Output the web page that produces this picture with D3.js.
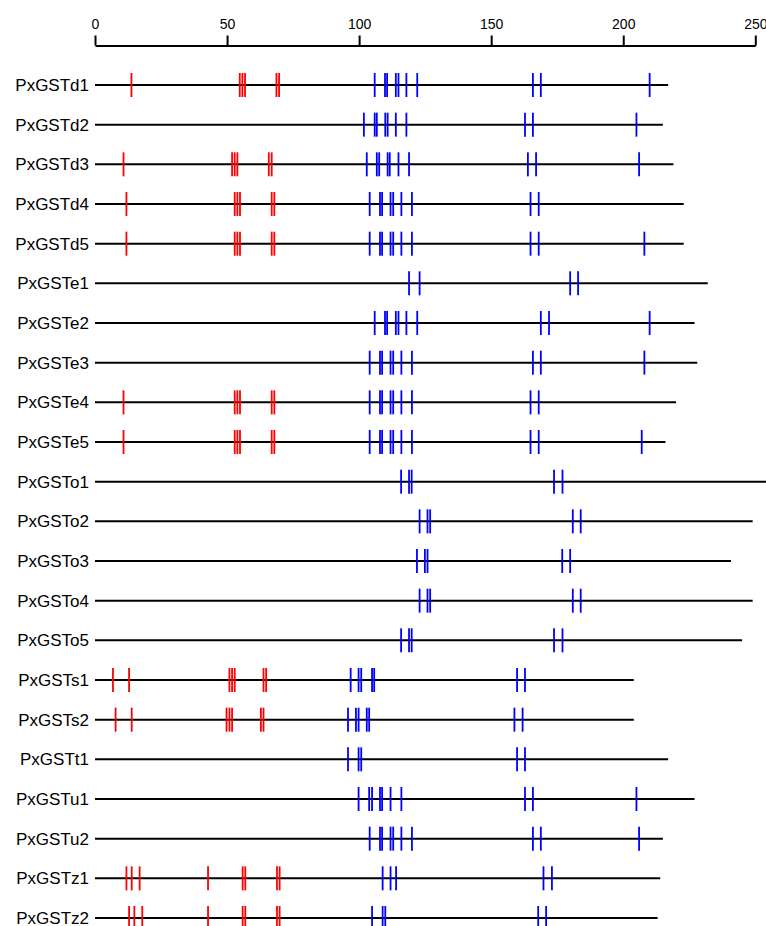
<!DOCTYPE html>
<html>
<head>
<meta charset="utf-8">
<script src="https://cdn.jsdelivr.net/npm/d3@7"></script>
<style>
  body { margin: 0; background: #fff; }
  svg { display: block; }
  text { font-family: "Liberation Sans", Arial, sans-serif; }
</style>
</head>
<body>
<svg></svg>
<script>
// gene names, top to bottom
const genes = ["PxGSTd1", "PxGSTd2", "PxGSTd3", "PxGSTd4", "PxGSTd5",
  "PxGSTe1", "PxGSTe2", "PxGSTe3", "PxGSTe4", "PxGSTe5",
  "PxGSTo1", "PxGSTo2", "PxGSTo3", "PxGSTo4", "PxGSTo5",
  "PxGSTs1", "PxGSTs2", "PxGSTt1", "PxGSTu1", "PxGSTu2",
  "PxGSTz1", "PxGSTz2"];

// sequence length of each gene
const lengths = [217, 215, 219, 222.9, 222.9,
  232, 227, 228, 220, 216,
  258, 249, 240.8, 249, 245,
  204, 204, 217, 227, 215,
  214, 213];

// red sites
const redSites = [
  [13.8, 54.8, 55.8, 56.8, 68.7, 69.7],
  [],
  [10.8, 51.9, 52.9, 53.9, 65.8, 66.9],
  [11.9, 52.9, 53.9, 54.9, 66.9, 67.9],
  [11.9, 52.9, 53.9, 54.9, 66.9, 67.9],
  [],
  [],
  [],
  [10.8, 52.9, 53.9, 54.9, 66.9, 67.9],
  [10.8, 52.9, 53.9, 54.9, 66.9, 67.9],
  [], [], [], [], [],
  [6.8, 12.9, 50.9, 51.9, 52.9, 63.8, 64.8],
  [7.8, 13.9, 49.8, 50.9, 51.9, 62.8, 63.8],
  [], [], [],
  [11.9, 13.9, 16.9, 42.8, 55.9, 56.9, 68.9, 69.9],
  [12.9, 14.9, 17.9, 42.8, 55.9, 56.9, 68.9, 69.9]
];

// blue sites
const blueSites = [
  [105.9, 109.8, 110.6, 113.9, 114.9, 117.9, 122.0, 165.8, 168.8, 210.0],
  [101.8, 105.9, 106.7, 109.9, 110.8, 113.9, 117.9, 162.8, 165.8, 205.0],
  [102.9, 106.7, 107.6, 110.8, 111.6, 114.9, 118.9, 163.9, 167.0, 206.0],
  [104.0, 107.9, 108.7, 111.9, 112.9, 116.0, 120.0, 164.9, 168.0],
  [104.0, 107.9, 108.7, 111.9, 112.9, 116.0, 120.0, 164.9, 168.0, 208.0],
  [118.9, 122.9, 179.9, 182.9],
  [105.9, 109.8, 110.6, 113.9, 114.9, 117.9, 122.0, 168.8, 171.9, 210.0],
  [104.0, 107.9, 108.7, 111.9, 112.9, 116.0, 120.0, 165.8, 168.8, 208.0],
  [104.0, 107.9, 108.7, 111.9, 112.9, 116.0, 120.0, 164.9, 168.0],
  [104.0, 107.9, 108.7, 111.9, 112.9, 116.0, 120.0, 164.9, 168.0, 207.0],
  [115.9, 118.9, 119.9, 173.8, 177.0],
  [122.9, 125.9, 126.9, 180.9, 183.9],
  [121.9, 124.9, 125.9, 176.9, 179.9],
  [122.9, 125.9, 126.9, 180.9, 183.9],
  [115.9, 118.9, 119.9, 173.8, 177.0],
  [96.8, 99.8, 100.8, 104.9, 105.7, 159.8, 162.8],
  [95.8, 98.8, 99.8, 102.9, 103.8, 158.8, 161.9],
  [95.8, 99.8, 100.8, 159.8, 162.8],
  [99.8, 103.8, 104.9, 107.9, 108.7, 111.9, 116.0, 162.8, 165.8, 205.0],
  [104.0, 107.9, 108.7, 111.9, 112.9, 116.0, 120.0, 165.8, 168.8, 206.0],
  [108.9, 111.9, 114.0, 169.8, 173.0],
  [104.9, 108.9, 109.9, 167.8, 170.8]
];

const axisTicks = [0, 50, 100, 150, 200, 250];

const width = 766;
const height = 926;

const svg = d3.select("svg")
  .attr("width", width)
  .attr("height", height);

const x = d3.scaleLinear()
  .domain([0, 250])
  .range([95, 755.3]);

const y = d3.scalePoint()
  .domain(genes)
  .range([85, 918]);

// top axis
const axis = svg.append("g")
  .attr("transform", "translate(0,45.5)")
  .call(d3.axisTop(x).tickValues(axisTicks).tickSize(10).tickSizeOuter(0).tickPadding(7))
axis.select(".domain").attr("stroke", "#000").attr("stroke-width", 2);
axis.selectAll(".tick line").attr("stroke", "#000").attr("stroke-width", 2);
axis.selectAll(".tick text")
  .attr("fill", "#000")
  .style("font-size", "14px")
  .style("font-family", "Liberation Sans, Arial, sans-serif");

// one group per gene
const row = svg.selectAll("g.gene")
  .data(genes)
  .enter().append("g")
  .attr("class", "gene")
  .attr("transform", d => "translate(0," + y(d) + ")");

row.append("text")
  .attr("x", 89)
  .attr("dy", "0.35em")
  .attr("text-anchor", "end")
  .style("font-size", "17px")
  .text(d => d);

row.append("line")
  .attr("x1", x(0))
  .attr("x2", (d, i) => x(lengths[i]))
  .attr("stroke", "#000")
  .attr("stroke-width", 2);

// site marks
row.selectAll("line.red")
  .data((d, i) => redSites[i])
  .enter().append("line")
  .attr("class", "red")
  .attr("x1", d => x(d)).attr("x2", d => x(d))
  .attr("y1", -12).attr("y2", 12)
  .attr("stroke", "#ff0000")
  .attr("stroke-width", 1.8);

row.selectAll("line.blue")
  .data((d, i) => blueSites[i])
  .enter().append("line")
  .attr("class", "blue")
  .attr("x1", d => x(d)).attr("x2", d => x(d))
  .attr("y1", -12).attr("y2", 12)
  .attr("stroke", "#0000ff")
  .attr("stroke-width", 1.8);
</script>
</body>
</html>
